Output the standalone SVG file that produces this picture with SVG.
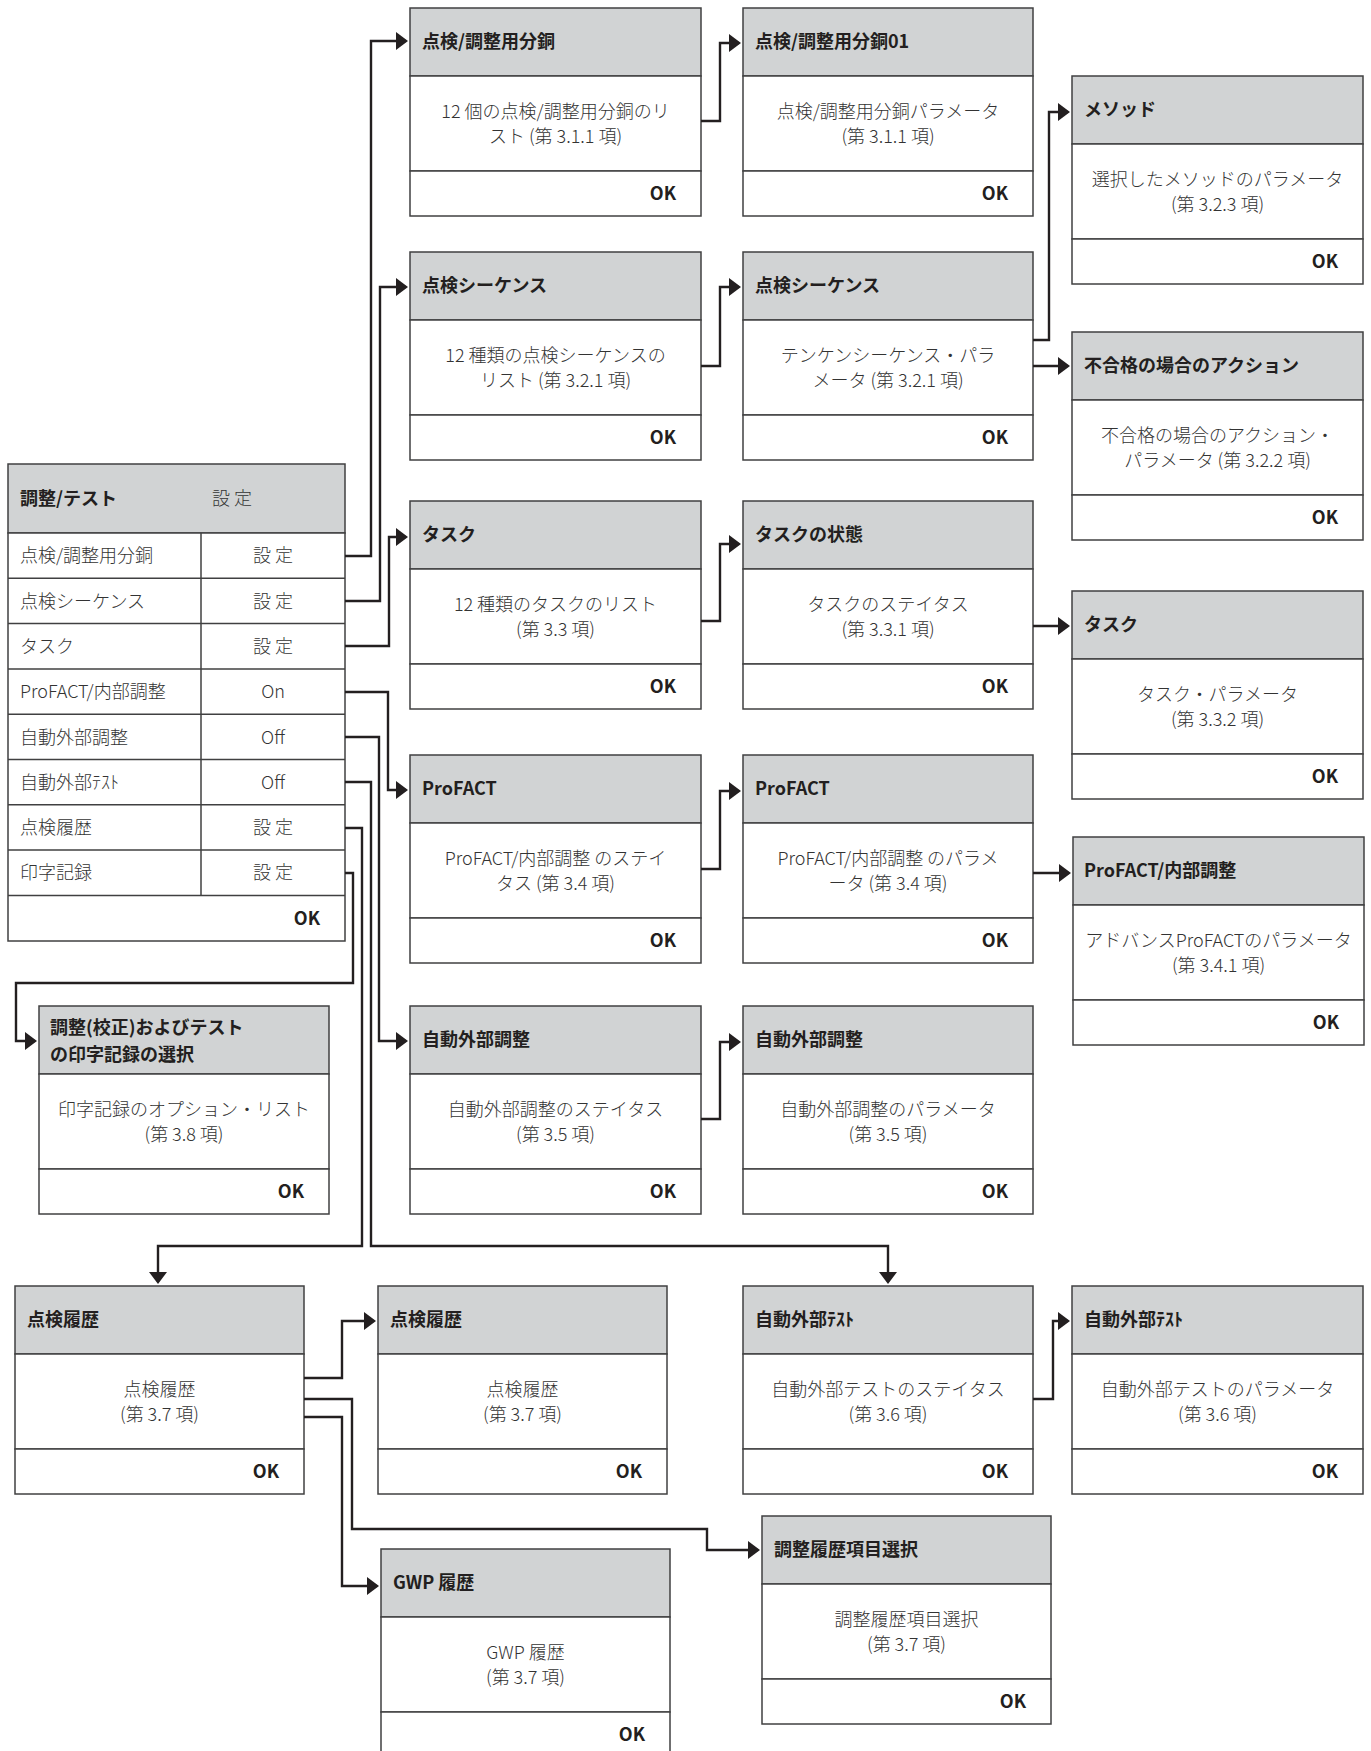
<svg xmlns="http://www.w3.org/2000/svg" width="1371" height="1751" viewBox="0 0 1371 1751">
<style>
.hd{fill:#d1d3d4;stroke:#404041;stroke-width:1.5}
.bx{fill:#fff;stroke:#404041;stroke-width:1.5}
.ln{stroke:#404041;stroke-width:1.5}
text{font-family:"Noto Sans CJK JP","Noto Sans",sans-serif;font-size:18px}
.t{font-weight:700;fill:#231f20}
.b{font-weight:300;fill:#333;text-anchor:middle}
.ok{font-weight:700;fill:#231f20;text-anchor:end}
.r{font-weight:300;fill:#333}
.rc{font-weight:300;fill:#333;text-anchor:middle}
.cn{fill:none;stroke:#231f20;stroke-width:2.4;marker-end:url(#ah)}
</style>
<defs>
<marker id="ah" markerUnits="userSpaceOnUse" viewBox="0 0 12 18" refX="10" refY="9" markerWidth="12" markerHeight="18" orient="auto"><path d="M0,0 L12,9 L0,18 z" fill="#231f20"/></marker>
</defs>
<rect width="1371" height="1751" fill="#fff"/>

<g id="main-table">
<rect class="hd" x="8" y="464" width="337" height="69"/>
<rect class="bx" x="8" y="533" width="337" height="408"/>
<line class="ln" x1="8" y1="578.3" x2="345" y2="578.3"/>
<line class="ln" x1="8" y1="623.6" x2="345" y2="623.6"/>
<line class="ln" x1="8" y1="669" x2="345" y2="669"/>
<line class="ln" x1="8" y1="714.2" x2="345" y2="714.2"/>
<line class="ln" x1="8" y1="759.5" x2="345" y2="759.5"/>
<line class="ln" x1="8" y1="804.8" x2="345" y2="804.8"/>
<line class="ln" x1="8" y1="850" x2="345" y2="850"/>
<line class="ln" x1="8" y1="895.4" x2="345" y2="895.4"/>
<line class="ln" x1="201" y1="533" x2="201" y2="895.4"/>
<text class="t" x="20" y="505">調整/テスト</text>
<text class="r" x="212" y="505">設 定</text>
<text class="r" x="20" y="562">点検/調整用分銅</text><text class="rc" x="273" y="562">設 定</text>
<text class="r" x="20" y="607.5">点検シーケンス</text><text class="rc" x="273" y="607.5">設 定</text>
<text class="r" x="20" y="653">タスク</text><text class="rc" x="273" y="653">設 定</text>
<text class="r" x="20" y="698">ProFACT/内部調整</text><text class="rc" x="273" y="698">On</text>
<text class="r" x="20" y="743.5">自動外部調整</text><text class="rc" x="273" y="743.5">Off</text>
<text class="r" x="20" y="788.5">自動外部ﾃｽﾄ</text><text class="rc" x="273" y="788.5">Off</text>
<text class="r" x="20" y="834">点検履歴</text><text class="rc" x="273" y="834">設 定</text>
<text class="r" x="20" y="879">印字記録</text><text class="rc" x="273" y="879">設 定</text>
<text class="ok" x="320" y="924.5">OK</text>
</g>

<g id="box-weights-list">
<rect class="hd" x="410" y="8" width="291" height="68"/><rect class="bx" x="410" y="76" width="291" height="95"/><rect class="bx" x="410" y="171" width="291" height="45"/>
<text class="t" x="422" y="48">点検/調整用分銅</text>
<text class="b" x="555.5" y="118">12 個の点検/調整用分銅のリ</text>
<text class="b" x="555.5" y="143">スト (第 3.1.1 項)</text>
<text class="ok" x="676" y="200">OK</text>
</g>

<g id="box-weight01">
<rect class="hd" x="743" y="8" width="290" height="68"/><rect class="bx" x="743" y="76" width="290" height="95"/><rect class="bx" x="743" y="171" width="290" height="45"/>
<text class="t" x="755" y="48">点検/調整用分銅01</text>
<text class="b" x="888" y="118">点検/調整用分銅パラメータ</text>
<text class="b" x="888" y="143">(第 3.1.1 項)</text>
<text class="ok" x="1008" y="200">OK</text>
</g>

<g id="box-method">
<rect class="hd" x="1072" y="76" width="291" height="68"/><rect class="bx" x="1072" y="144" width="291" height="95"/><rect class="bx" x="1072" y="239" width="291" height="45"/>
<text class="t" x="1084" y="116">メソッド</text>
<text class="b" x="1217.5" y="186">選択したメソッドのパラメータ</text>
<text class="b" x="1217.5" y="211">(第 3.2.3 項)</text>
<text class="ok" x="1338" y="268">OK</text>
</g>

<g id="box-seq-list">
<rect class="hd" x="410" y="252" width="291" height="68"/><rect class="bx" x="410" y="320" width="291" height="95"/><rect class="bx" x="410" y="415" width="291" height="45"/>
<text class="t" x="422" y="292">点検シーケンス</text>
<text class="b" x="555.5" y="362">12 種類の点検シーケンスの</text>
<text class="b" x="555.5" y="387">リスト (第 3.2.1 項)</text>
<text class="ok" x="676" y="444">OK</text>
</g>

<g id="box-seq-param">
<rect class="hd" x="743" y="252" width="290" height="68"/><rect class="bx" x="743" y="320" width="290" height="95"/><rect class="bx" x="743" y="415" width="290" height="45"/>
<text class="t" x="755" y="292">点検シーケンス</text>
<text class="b" x="888" y="362">テンケンシーケンス・パラ</text>
<text class="b" x="888" y="387">メータ (第 3.2.1 項)</text>
<text class="ok" x="1008" y="444">OK</text>
</g>

<g id="box-fail-action">
<rect class="hd" x="1072" y="332" width="291" height="68"/><rect class="bx" x="1072" y="400" width="291" height="95"/><rect class="bx" x="1072" y="495" width="291" height="45"/>
<text class="t" x="1084" y="372">不合格の場合のアクション</text>
<text class="b" x="1217.5" y="442">不合格の場合のアクション・</text>
<text class="b" x="1217.5" y="467">パラメータ (第 3.2.2 項)</text>
<text class="ok" x="1338" y="524">OK</text>
</g>

<g id="box-task-list">
<rect class="hd" x="410" y="501" width="291" height="68"/><rect class="bx" x="410" y="569" width="291" height="95"/><rect class="bx" x="410" y="664" width="291" height="45"/>
<text class="t" x="422" y="541">タスク</text>
<text class="b" x="555.5" y="611">12 種類のタスクのリスト</text>
<text class="b" x="555.5" y="636">(第 3.3 項)</text>
<text class="ok" x="676" y="693">OK</text>
</g>

<g id="box-task-status">
<rect class="hd" x="743" y="501" width="290" height="68"/><rect class="bx" x="743" y="569" width="290" height="95"/><rect class="bx" x="743" y="664" width="290" height="45"/>
<text class="t" x="755" y="541">タスクの状態</text>
<text class="b" x="888" y="611">タスクのステイタス</text>
<text class="b" x="888" y="636">(第 3.3.1 項)</text>
<text class="ok" x="1008" y="693">OK</text>
</g>

<g id="box-task-param">
<rect class="hd" x="1072" y="591" width="291" height="68"/><rect class="bx" x="1072" y="659" width="291" height="95"/><rect class="bx" x="1072" y="754" width="291" height="45"/>
<text class="t" x="1084" y="631">タスク</text>
<text class="b" x="1217.5" y="701">タスク・パラメータ</text>
<text class="b" x="1217.5" y="726">(第 3.3.2 項)</text>
<text class="ok" x="1338" y="783">OK</text>
</g>

<g id="box-profact-status">
<rect class="hd" x="410" y="755" width="291" height="68"/><rect class="bx" x="410" y="823" width="291" height="95"/><rect class="bx" x="410" y="918" width="291" height="45"/>
<text class="t" x="422" y="795">ProFACT</text>
<text class="b" x="555.5" y="865">ProFACT/内部調整 のステイ</text>
<text class="b" x="555.5" y="890">タス (第 3.4 項)</text>
<text class="ok" x="676" y="947">OK</text>
</g>

<g id="box-profact-param">
<rect class="hd" x="743" y="755" width="290" height="68"/><rect class="bx" x="743" y="823" width="290" height="95"/><rect class="bx" x="743" y="918" width="290" height="45"/>
<text class="t" x="755" y="795">ProFACT</text>
<text class="b" x="888" y="865">ProFACT/内部調整 のパラメ</text>
<text class="b" x="888" y="890">ータ (第 3.4 項)</text>
<text class="ok" x="1008" y="947">OK</text>
</g>

<g id="box-profact-advanced">
<rect class="hd" x="1073" y="837" width="291" height="68"/><rect class="bx" x="1073" y="905" width="291" height="95"/><rect class="bx" x="1073" y="1000" width="291" height="45"/>
<text class="t" x="1084" y="877">ProFACT/内部調整</text>
<text class="b" x="1218.5" y="947">アドバンスProFACTのパラメータ</text>
<text class="b" x="1218.5" y="972">(第 3.4.1 項)</text>
<text class="ok" x="1339" y="1029">OK</text>
</g>

<g id="box-printout">
<rect class="hd" x="39" y="1006" width="290" height="68"/><rect class="bx" x="39" y="1074" width="290" height="95"/><rect class="bx" x="39" y="1169" width="290" height="45"/>
<text class="t" x="50" y="1034">調整(校正)およびテスト</text>
<text class="t" x="50" y="1061">の印字記録の選択</text>
<text class="b" x="184" y="1116">印字記録のオプション・リスト</text>
<text class="b" x="184" y="1141">(第 3.8 項)</text>
<text class="ok" x="304" y="1198">OK</text>
</g>

<g id="box-autoext-status">
<rect class="hd" x="410" y="1006" width="291" height="68"/><rect class="bx" x="410" y="1074" width="291" height="95"/><rect class="bx" x="410" y="1169" width="291" height="45"/>
<text class="t" x="422" y="1046">自動外部調整</text>
<text class="b" x="555.5" y="1116">自動外部調整のステイタス</text>
<text class="b" x="555.5" y="1141">(第 3.5 項)</text>
<text class="ok" x="676" y="1198">OK</text>
</g>

<g id="box-autoext-param">
<rect class="hd" x="743" y="1006" width="290" height="68"/><rect class="bx" x="743" y="1074" width="290" height="95"/><rect class="bx" x="743" y="1169" width="290" height="45"/>
<text class="t" x="755" y="1046">自動外部調整</text>
<text class="b" x="888" y="1116">自動外部調整のパラメータ</text>
<text class="b" x="888" y="1141">(第 3.5 項)</text>
<text class="ok" x="1008" y="1198">OK</text>
</g>

<g id="box-history">
<rect class="hd" x="15" y="1286" width="289" height="68"/><rect class="bx" x="15" y="1354" width="289" height="95"/><rect class="bx" x="15" y="1449" width="289" height="45"/>
<text class="t" x="27" y="1326">点検履歴</text>
<text class="b" x="159.5" y="1396">点検履歴</text>
<text class="b" x="159.5" y="1421">(第 3.7 項)</text>
<text class="ok" x="279" y="1478">OK</text>
</g>

<g id="box-history2">
<rect class="hd" x="378" y="1286" width="289" height="68"/><rect class="bx" x="378" y="1354" width="289" height="95"/><rect class="bx" x="378" y="1449" width="289" height="45"/>
<text class="t" x="390" y="1326">点検履歴</text>
<text class="b" x="522.5" y="1396">点検履歴</text>
<text class="b" x="522.5" y="1421">(第 3.7 項)</text>
<text class="ok" x="642" y="1478">OK</text>
</g>

<g id="box-autotest-status">
<rect class="hd" x="743" y="1286" width="290" height="68"/><rect class="bx" x="743" y="1354" width="290" height="95"/><rect class="bx" x="743" y="1449" width="290" height="45"/>
<text class="t" x="755" y="1326">自動外部ﾃｽﾄ</text>
<text class="b" x="888" y="1396">自動外部テストのステイタス</text>
<text class="b" x="888" y="1421">(第 3.6 項)</text>
<text class="ok" x="1008" y="1478">OK</text>
</g>

<g id="box-autotest-param">
<rect class="hd" x="1072" y="1286" width="291" height="68"/><rect class="bx" x="1072" y="1354" width="291" height="95"/><rect class="bx" x="1072" y="1449" width="291" height="45"/>
<text class="t" x="1084" y="1326">自動外部ﾃｽﾄ</text>
<text class="b" x="1217.5" y="1396">自動外部テストのパラメータ</text>
<text class="b" x="1217.5" y="1421">(第 3.6 項)</text>
<text class="ok" x="1338" y="1478">OK</text>
</g>

<g id="box-adj-history-select">
<rect class="hd" x="762" y="1516" width="289" height="68"/><rect class="bx" x="762" y="1584" width="289" height="95"/><rect class="bx" x="762" y="1679" width="289" height="45"/>
<text class="t" x="774" y="1556">調整履歴項目選択</text>
<text class="b" x="906.5" y="1626">調整履歴項目選択</text>
<text class="b" x="906.5" y="1651">(第 3.7 項)</text>
<text class="ok" x="1026" y="1708">OK</text>
</g>

<g id="box-gwp-history">
<rect class="hd" x="381" y="1549" width="289" height="68"/><rect class="bx" x="381" y="1617" width="289" height="95"/><rect class="bx" x="381" y="1712" width="289" height="45"/>
<text class="t" x="393" y="1589">GWP 履歴</text>
<text class="b" x="525.5" y="1659">GWP 履歴</text>
<text class="b" x="525.5" y="1684">(第 3.7 項)</text>
<text class="ok" x="645" y="1741">OK</text>
</g>

<g id="connectors">
<path class="cn" d="M345,556 H371 V41 H406"/>
<path class="cn" d="M345,601 H380 V287 H406"/>
<path class="cn" d="M345,646 H389 V537 H406"/>
<path class="cn" d="M345,692 H388 V790 H406"/>
<path class="cn" d="M345,737 H379 V1041 H406"/>
<path class="cn" d="M345,782 H371 V1246 H888 V1282"/>
<path class="cn" d="M345,828 H362 V1246 H158 V1282"/>
<path class="cn" d="M345,873 H353 V983 H16 V1041 H35"/>
<path class="cn" d="M701,121 H720 V43 H739"/>
<path class="cn" d="M701,366 H720 V287 H739"/>
<path class="cn" d="M701,621 H720 V544 H739"/>
<path class="cn" d="M701,869 H720 V791 H739"/>
<path class="cn" d="M701,1119 H720 V1042 H739"/>
<path class="cn" d="M1033,340 H1049 V112 H1068"/>
<path class="cn" d="M1033,366 H1068"/>
<path class="cn" d="M1033,626 H1068"/>
<path class="cn" d="M1033,873 H1069"/>
<path class="cn" d="M304,1378 H342 V1321 H374"/>
<path class="cn" d="M304,1399 H352 V1529 H707 V1550 H758"/>
<path class="cn" d="M304,1417 H342 V1586 H377"/>
<path class="cn" d="M1033,1399 H1053 V1321 H1068"/>
</g>
</svg>
